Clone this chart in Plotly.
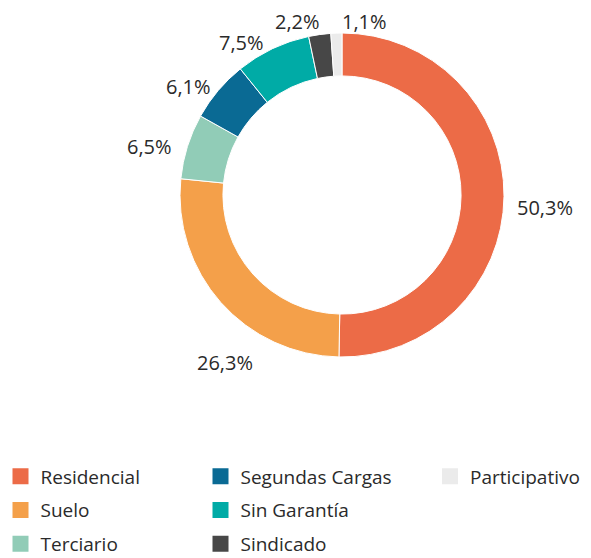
import plotly.graph_objects as go

categories = ["Residencial", "Suelo", "Terciario", "Segundas Cargas", "Sin Garantía", "Sindicado", "Participativo"]
values = [50.3, 26.3, 6.5, 6.1, 7.5, 2.2, 1.1]
colors = ["#EC6B47", "#F4A04A", "#91CCB7", "#0A6A94", "#00ABA6", "#474747", "#EBEBEB"]
legend_columns = [["Residencial", "Suelo", "Terciario"],
                  ["Segundas Cargas", "Sin Garantía", "Sindicado"],
                  ["Participativo"]]

FONT = "Open Sans"
TXT = "#2a2a2a"

# the page body adds an 8px offset; size the figure so it fills the window exactly
OFF = 8
W, H = 591 - OFF, 558 - OFF


def px_x(p):
    return (p - OFF) / W


def px_y(p):
    return 1 - (p - OFF) / H


cx, cy, r = 342, 195, 162  # window pixels

# data-label placement (window pixel anchor, anchor side), same order as categories
label_pos = [(515, 207, "left"), (224.5, 362, "center"), (174, 147, "right"),
             (213, 86, "right"), (266, 43, "right"), (322, 21, "right"), (340, 21, "left")]

fig = go.Figure()
fig.add_trace(go.Pie(
    labels=categories, values=values, sort=False, direction="clockwise", rotation=0,
    hole=0.735,
    marker=dict(colors=colors, line=dict(color="white", width=1)),
    textinfo="none",
    showlegend=False, hoverinfo="label+value",
    domain=dict(x=[px_x(cx - r), px_x(cx + r)], y=[px_y(cy + r), px_y(cy - r)]),
))

for v, (px, py, anchor) in zip(values, label_pos):
    fig.add_annotation(
        xref="paper", yref="paper", x=px_x(px), y=px_y(py),
        xanchor=anchor, yanchor="middle", showarrow=False,
        text=f"{v:.1f}%".replace(".", ","),
        font=dict(family=FONT, size=20, color=TXT),
    )

legend_names = ["legend", "legend2", "legend3"]
legend_x = [-7.5, 192.5, 422]   # figure pixels
legend_top = 449.5              # figure pixels
cmap = dict(zip(categories, colors))
for col, names in enumerate(legend_columns):
    for name in names:
        fig.add_trace(go.Scatter(
            x=[None], y=[None], mode="markers", name=name,
            marker=dict(symbol="square", size=16, color=cmap[name]),
            legend=legend_names[col], legendgroup=name, showlegend=True,
        ))

leg_common = dict(
    orientation="v", font=dict(family=FONT, size=19, color=TXT),
    bgcolor="rgba(0,0,0,0)", borderwidth=0, tracegroupgap=6,
    xanchor="left", yanchor="top", itemclick=False, itemdoubleclick=False,
)
layout_legends = {}
for i, ln in enumerate(legend_names):
    layout_legends[ln] = dict(leg_common, x=legend_x[i] / W, y=1 - legend_top / H)

fig.update_layout(
    width=W, height=H,
    margin=dict(l=0, r=0, t=0, b=0, autoexpand=False),
    paper_bgcolor="white", plot_bgcolor="white",
    xaxis=dict(visible=False), yaxis=dict(visible=False),
    **layout_legends,
)

fig.write_html("out.html")
